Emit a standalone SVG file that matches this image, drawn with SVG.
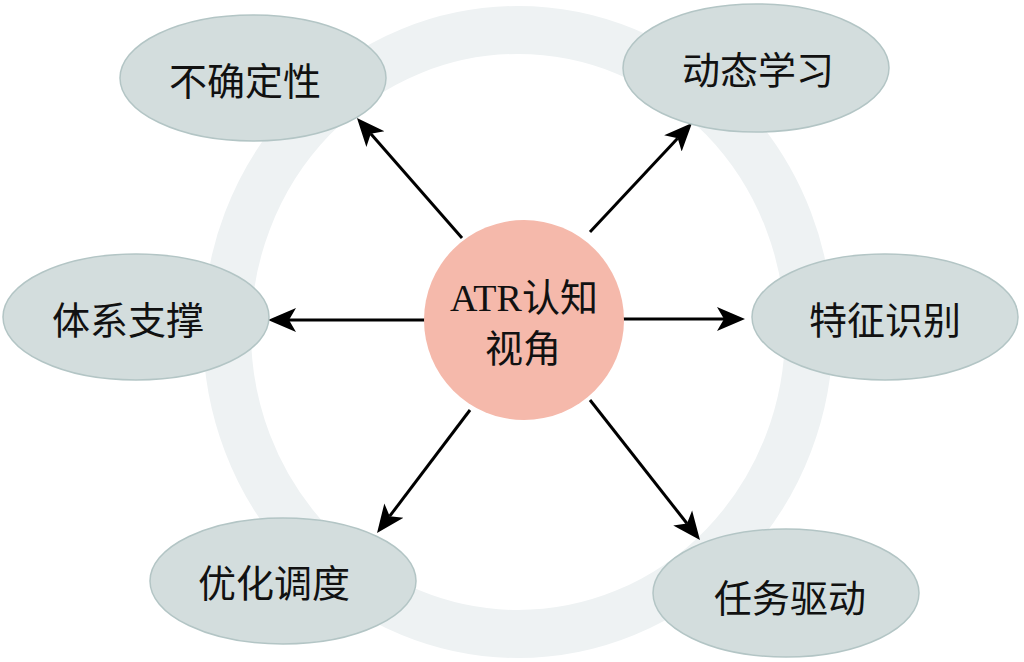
<svg xmlns="http://www.w3.org/2000/svg" width="1024" height="662" viewBox="0 0 1024 662">
  <style>
    .node ellipse { fill: #d3dddd; stroke: #b3c5c5; stroke-width: 1.5; }
    .label { font-family: "Noto Sans CJK SC", "Liberation Sans", sans-serif; font-size: 38px; fill: #111; text-anchor: middle; dominant-baseline: central; }
    .center-label { font-family: "Liberation Serif", "Noto Sans CJK SC", serif; font-size: 38px; fill: #111; text-anchor: middle; dominant-baseline: central; }
    .conn { stroke: #000; stroke-width: 3; fill: none; marker-end: url(#arrow); }
  </style>
  <defs>
    <marker id="arrow" markerUnits="userSpaceOnUse" markerWidth="30" markerHeight="26" viewBox="0 -13 30 26" refX="7" refY="0" orient="auto">
      <path d="M28,0 L0,-12 L7,0 L0,12 Z" fill="#000"/>
    </marker>
  </defs>
  <rect width="1024" height="662" fill="#ffffff"/>
  <ellipse id="ring" cx="518" cy="332" rx="291" ry="302" fill="none" stroke="#eef2f3" stroke-width="48"/>

  <g id="connectors">
    <line class="conn" x1="462" y1="238" x2="370.8" y2="133.8"/>
    <line class="conn" x1="590" y1="232" x2="677.7" y2="138.3"/>
    <line class="conn" x1="425" y1="320" x2="289" y2="320"/>
    <line class="conn" x1="623" y1="319" x2="724" y2="319"/>
    <line class="conn" x1="470" y1="410" x2="389.7" y2="516.2"/>
    <line class="conn" x1="590" y1="400" x2="687" y2="523.5"/>
  </g>

  <g id="center" class="node">
    <circle cx="524" cy="320" r="100" fill="#f5b9ab"/>
    <text class="center-label" x="524" y="298">ATR认知</text>
    <text class="label" x="523" y="345">视角</text>
  </g>

  <g id="node-uncertainty" class="node">
    <ellipse cx="253" cy="78" rx="133" ry="63"/>
    <text class="label" x="245" y="78">不确定性</text>
  </g>
  <g id="node-dynamic" class="node">
    <ellipse cx="756" cy="68" rx="133" ry="64"/>
    <text class="label" x="758" y="67">动态学习</text>
  </g>
  <g id="node-system" class="node">
    <ellipse cx="136" cy="317" rx="133" ry="63"/>
    <text class="label" x="128" y="317">体系支撑</text>
  </g>
  <g id="node-feature" class="node">
    <ellipse cx="885" cy="317" rx="133" ry="63"/>
    <text class="label" x="885" y="317">特征识别</text>
  </g>
  <g id="node-optimize" class="node">
    <ellipse cx="283" cy="581" rx="133" ry="63"/>
    <text class="label" x="274" y="580">优化调度</text>
  </g>
  <g id="node-task" class="node">
    <ellipse cx="786" cy="593" rx="133" ry="64"/>
    <text class="label" x="790" y="595">任务驱动</text>
  </g>
</svg>
